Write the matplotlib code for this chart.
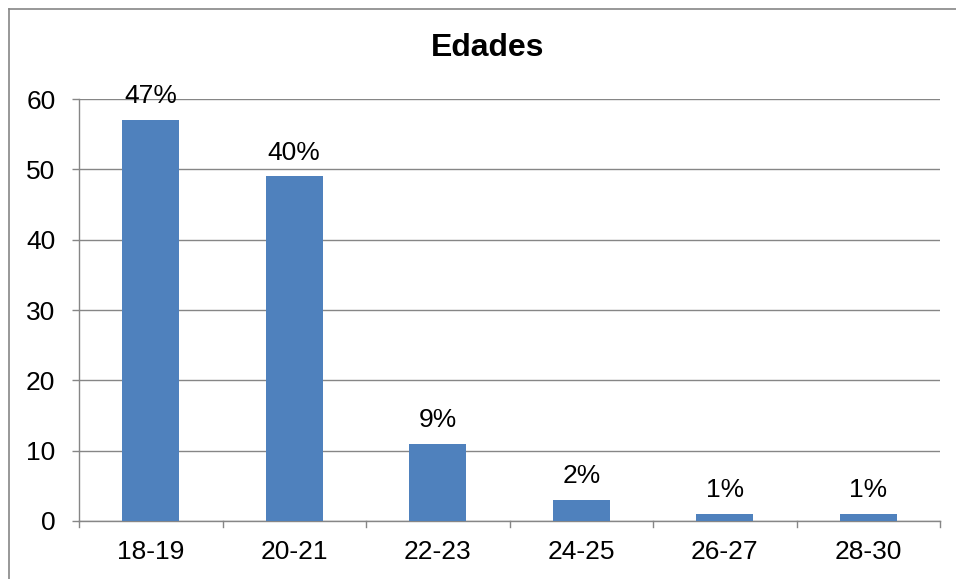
import matplotlib
matplotlib.use("Agg")
import matplotlib.pyplot as plt
from matplotlib.lines import Line2D

categories = ["18-19", "20-21", "22-23", "24-25", "26-27", "28-30"]
values = [57, 49, 11, 3, 1, 1]
pct_labels = ["47%", "40%", "9%", "2%", "1%", "1%"]
yticks = [0, 10, 20, 30, 40, 50, 60]

plt.rcParams['font.family'] = ['Liberation Sans', 'DejaVu Sans']

fig = plt.figure(figsize=(9.56, 5.79), dpi=100)
ax = fig.add_axes([79/956, 1-521/579, (940-79)/956, (521-99)/579])

x = list(range(len(categories)))
ax.bar(x, values, width=0.4, color="#4F81BD", zorder=3)
ax.set_xlim(-0.5, len(categories)-0.5)
ax.set_ylim(0, 60)
ax.set_yticks(yticks)
ax.set_xticks(x)
ax.set_xticklabels(categories)
ax.tick_params(axis='both', labelsize=19, colors="#000000")
ax.tick_params(axis='y', length=5, width=1, color="#868686", pad=12, direction='out')
ax.tick_params(axis='x', length=0, pad=14)
# category boundary tick marks
for b in [i - 0.5 for i in range(len(categories)+1)]:
    ax.plot([b, b], [0, -0.85], color="#868686", lw=1, clip_on=False, zorder=4)
ax.yaxis.grid(True, color="#868686", lw=1, zorder=0)
for s in ['top', 'right']:
    ax.spines[s].set_visible(False)
for s in ['left', 'bottom']:
    ax.spines[s].set_color("#868686")
    ax.spines[s].set_linewidth(1)

for xi, v, lab in zip(x, values, pct_labels):
    ax.annotate(lab, (xi, v), xytext=(0, 12), textcoords='offset points',
                ha='center', va='baseline', fontsize=19)

fig.text(488/956, 1-48/579, "Edades", ha='center', va='center', fontsize=23, fontweight='bold')

# outer chart border (left and top visible)
fig.add_artist(Line2D([9/956, 9/956], [0, 1-9/579], transform=fig.transFigure, color="#868686", lw=1.2))
fig.add_artist(Line2D([9/956, 1], [1-9/579, 1-9/579], transform=fig.transFigure, color="#868686", lw=1.2))

fig.savefig("out.png", dpi=100)
